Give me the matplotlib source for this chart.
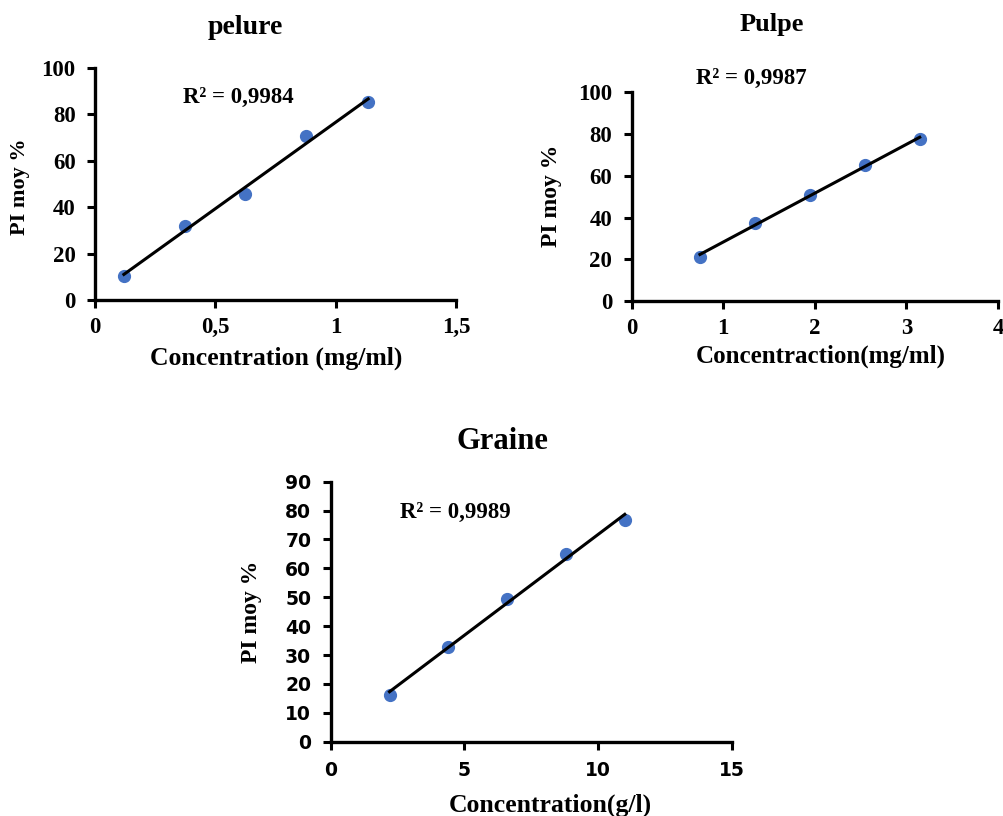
import numpy as np
import matplotlib
matplotlib.use("Agg")
import matplotlib.pyplot as plt

# Data
pelure_x = [0.12, 0.375, 0.625, 0.875, 1.135]
pelure_y = [10.3, 31.8, 45.8, 70.6, 85.2]
pulpe_x = [0.745, 1.345, 1.945, 2.545, 3.145]
pulpe_y = [21.0, 37.6, 50.7, 65.2, 77.4]
graine_x = [2.2, 4.4, 6.6, 8.8, 11.0]
graine_y = [16.0, 32.8, 49.5, 65.1, 76.6]

titles = ["pelure", "Pulpe", "Graine"]
xlabels = ["Concentration (mg/ml)", "Concentraction(mg/ml)", "Concentration(g/l)"]
ylabel = "PI moy %"
r2_texts = ["R² = 0,9984", "R² = 0,9987", "R² = 0,9989"]
pelure_xticks = [0, 0.5, 1, 1.5]
pelure_xticklabels = ["0", "0,5", "1", "1,5"]
pulpe_xticks = [0, 1, 2, 3, 4]
graine_xticks = [0, 5, 10, 15]
pelure_yticks = [0, 20, 40, 60, 80, 100]
graine_yticks = [0, 10, 20, 30, 40, 50, 60, 70, 80, 90]

SERIF = "Liberation Serif"
SANS = "DejaVu Sans"
BLUE = "#4472C4"
W, H = 1004, 816

fig = plt.figure(figsize=(10.04, 8.16), dpi=100)

def fx(px):
    return px / W

def fy(py):
    return 1 - py / H

def style_axes(ax, tickfont, ticksize, xpad, ypad):
    for s in ["top", "right"]:
        ax.spines[s].set_visible(False)
    for s in ["left", "bottom"]:
        ax.spines[s].set_linewidth(2.4)
        ax.spines[s].set_color("black")
    ax.tick_params(direction="out", length=6, width=2.2, colors="black")
    ax.tick_params(axis="x", pad=xpad)
    ax.tick_params(axis="y", pad=ypad)
    for lab in ax.get_xticklabels() + ax.get_yticklabels():
        lab.set_fontfamily(tickfont)
        lab.set_fontweight("bold")
        lab.set_fontsize(ticksize)

def labels(ax, xl, xpos, ypos, xsize, ysize):
    ax.set_xlabel(xl, fontfamily=SERIF, fontweight="bold", fontsize=xsize)
    ax.set_ylabel(ylabel, fontfamily=SERIF, fontweight="bold", fontsize=ysize)
    ax.xaxis.set_label_coords(fx(xpos[0]), fy(xpos[1]), transform=fig.transFigure)
    ax.yaxis.set_label_coords(fx(ypos[0]), fy(ypos[1]), transform=fig.transFigure)
    ax.xaxis.label.set_va("center")
    ax.yaxis.label.set_va("center")

def draw(ax, x, y):
    x = np.array(x); y = np.array(y)
    m, b = np.polyfit(x, y, 1)
    xs = np.array([x.min(), x.max()])
    ax.plot(x, y, "o", color=BLUE, markersize=8.5, zorder=3, clip_on=False)
    ax.plot(xs, m * xs + b, color="black", linewidth=2.2, zorder=4)

# pelure
ax1 = fig.add_axes([fx(95), fy(300), fx(456) - fx(95), fy(68) - fy(300)])
draw(ax1, pelure_x, pelure_y)
ax1.set_xlim(0, 1.5); ax1.set_ylim(0, 100)
ax1.set_xticks(pelure_xticks); ax1.set_xticklabels(pelure_xticklabels)
ax1.set_yticks(pelure_yticks)
style_axes(ax1, SERIF, 16.5, 6, 8)
labels(ax1, xlabels[0], (276, 358), (20, 187), 18.5, 16)
fig.text(fx(238), fy(97), r2_texts[0], fontfamily=SERIF, fontweight="bold",
         fontsize=16.5, ha="center", va="center")
fig.text(fx(245), fy(27), titles[0], fontfamily=SERIF, fontweight="bold",
         fontsize=20, ha="center", va="center")

# pulpe
ax2 = fig.add_axes([fx(631.7), fy(301), fx(998) - fx(631.7), fy(92.3) - fy(301)])
draw(ax2, pulpe_x, pulpe_y)
ax2.set_xlim(0, 4); ax2.set_ylim(0, 100)
ax2.set_xticks(pulpe_xticks)
ax2.set_yticks(pelure_yticks)
style_axes(ax2, SERIF, 16.5, 6, 8)
labels(ax2, xlabels[1], (821, 356), (552, 196), 18, 17)
fig.text(fx(751), fy(78), r2_texts[1], fontfamily=SERIF, fontweight="bold",
         fontsize=16.5, ha="center", va="center")
fig.text(fx(772), fy(24), titles[1], fontfamily=SERIF, fontweight="bold",
         fontsize=19, ha="center", va="center")

# graine
ax3 = fig.add_axes([fx(330.7), fy(741.7), fx(731.7) - fx(330.7), fy(481.7) - fy(741.7)])
draw(ax3, graine_x, graine_y)
ax3.set_xlim(0, 15); ax3.set_ylim(0, 90)
ax3.set_xticks(graine_xticks)
ax3.set_yticks(graine_yticks)
style_axes(ax3, SANS, 13.5, 8, 8)
labels(ax3, xlabels[2], (550, 805), (252, 612), 18.5, 17)
fig.text(fx(455), fy(512), r2_texts[2], fontfamily=SERIF, fontweight="bold",
         fontsize=16.5, ha="center", va="center")
fig.text(fx(502), fy(442), titles[2], fontfamily=SERIF, fontweight="bold",
         fontsize=22, ha="center", va="center")

fig.savefig("out.png", dpi=100)
